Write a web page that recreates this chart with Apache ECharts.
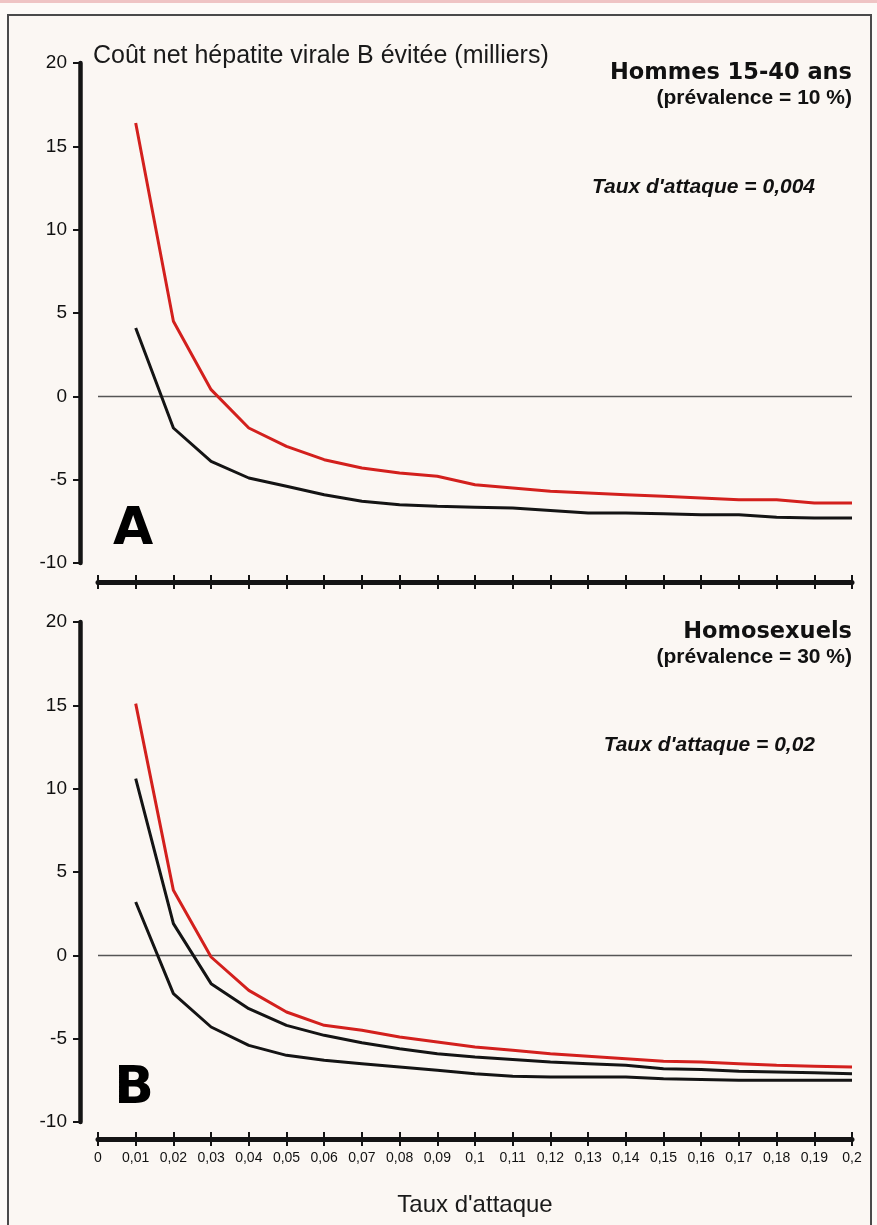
<!DOCTYPE html>
<html>
<head>
<meta charset="utf-8">
<script src="https://cdn.jsdelivr.net/npm/echarts@6/dist/echarts.min.js"></script>
<style>
html,body{margin:0;padding:0;background:#fdfaf7;}
#chart{width:877px;height:1225px;}
</style>
</head>
<body>
<div id="chart"></div>
<script>
// Taux d'attaque (x)
const xValues = [0.01,0.02,0.03,0.04,0.05,0.06,0.07,0.08,0.09,0.10,0.11,0.12,0.13,0.14,0.15,0.16,0.17,0.18,0.19,0.20];
// Panel A : Hommes 15-40 ans
const aRed   = [16.4, 4.5, 0.4, -1.9, -3.0, -3.8, -4.3, -4.6, -4.8, -5.3, -5.5, -5.7, -5.8, -5.9, -6.0, -6.1, -6.2, -6.2, -6.4, -6.4];
const aBlack = [4.1, -1.9, -3.9, -4.9, -5.4, -5.9, -6.3, -6.5, -6.6, -6.65, -6.7, -6.85, -7.0, -7.0, -7.05, -7.1, -7.1, -7.25, -7.3, -7.3];
// Panel B : Homosexuels
const bRed    = [15.1, 3.9, -0.1, -2.1, -3.4, -4.2, -4.5, -4.9, -5.2, -5.5, -5.7, -5.9, -6.05, -6.2, -6.35, -6.4, -6.5, -6.6, -6.65, -6.7];
const bBlack1 = [10.6, 1.9, -1.7, -3.2, -4.2, -4.8, -5.25, -5.6, -5.9, -6.1, -6.25, -6.4, -6.5, -6.6, -6.8, -6.85, -6.95, -7.0, -7.05, -7.1];
const bBlack2 = [3.2, -2.3, -4.3, -5.4, -6.0, -6.3, -6.5, -6.7, -6.9, -7.1, -7.25, -7.3, -7.3, -7.3, -7.4, -7.45, -7.5, -7.5, -7.5, -7.5];

const yTitle = "Coût net hépatite virale B évitée (milliers)";
const xTitle = "Taux d'attaque";

const pair = (ys) => xValues.map((x, i) => [x, ys[i]]);
const fmtX = (v) => String(Math.round(v * 100) / 100).replace('.', ',');

const RED = '#d3201d', BLACK = '#141414';
const FONT = 'Liberation Sans, Arial, sans-serif';

function xAxes(gridIndex, showLabels, offset) {
  const base = {
    type: 'value', gridIndex, min: 0, max: 0.2, interval: 0.01,
    position: 'bottom', offset, splitLine: {show: false}
  };
  return [
    Object.assign({}, base, {
      axisLine: {show: true, onZero: false, lineStyle: {color: BLACK, width: 5}},
      axisTick: {show: true, length: 7, lineStyle: {color: BLACK, width: 2}},
      axisLabel: {show: showLabels, formatter: fmtX, fontSize: 14, color: '#111', margin: 12, fontFamily: FONT},
      name: showLabels ? xTitle : '', nameLocation: 'middle', nameGap: 54,
      nameTextStyle: {fontSize: 24, color: '#1a1a1a', fontFamily: FONT}
    }),
    Object.assign({}, base, {
      axisLine: {show: false, onZero: false},
      axisTick: {show: true, inside: true, length: 7, lineStyle: {color: BLACK, width: 2}},
      axisLabel: {show: false}
    })
  ];
}
function yAxis(gridIndex) {
  return {
    type: 'value', gridIndex, min: -10, max: 20, interval: 5,
    position: 'left', offset: 18,
    axisLine: {show: true, onZero: false, lineStyle: {color: BLACK, width: 4.5}},
    axisTick: {show: true, length: 7, lineStyle: {color: BLACK, width: 2}},
    axisLabel: {fontSize: 19, color: '#111', margin: 13, fontFamily: FONT},
    splitLine: {show: false}
  };
}
function line(data, color, xi, yi, withZero) {
  const s = {
    type: 'line', data, xAxisIndex: xi, yAxisIndex: yi,
    symbol: 'none', lineStyle: {color, width: 3}, z: 3, silent: true
  };
  if (withZero) {
    s.markLine = {
      silent: true, symbol: 'none', label: {show: false},
      lineStyle: {color: '#555', width: 1.3, type: 'solid'},
      data: [{yAxis: 0}], z: 1
    };
  }
  return s;
}

const chart = echarts.init(document.getElementById('chart'), null, {renderer: 'canvas'});
const txt = (x, y, text, size, opts) => ({
  type: 'text', x, y, z: 10,
  style: Object.assign({text, fontSize: size, fill: '#111', fontFamily: FONT,
    verticalAlign: 'middle', align: 'left'}, opts || {})
});
const heavy = {fontFamily: 'DejaVu Sans', fontWeight: 'bold'};

chart.setOption({
  animation: false,
  backgroundColor: '#fdfaf7',
  grid: [
    {left: 98, top: 63, width: 754, height: 500},
    {left: 98, top: 622, width: 754, height: 500}
  ],
  xAxis: [...xAxes(0, false, 19), ...xAxes(1, true, 17)],
  yAxis: [yAxis(0), yAxis(1)],
  series: [
    line(pair(aRed), RED, 0, 0, true),
    line(pair(aBlack), BLACK, 0, 0, false),
    line(pair(bRed), RED, 2, 1, true),
    line(pair(bBlack1), BLACK, 2, 1, false),
    line(pair(bBlack2), BLACK, 2, 1, false)
  ],
  graphic: [
    {type: 'rect', z: 0, shape: {x: 0, y: 0, width: 877, height: 3}, style: {fill: '#efc4c4'}},
    {type: 'rect', z: 0, shape: {x: 8, y: 15, width: 863, height: 1240}, style: {fill: '#fbf7f3', stroke: '#4a4a4a', lineWidth: 2}},
    txt(93, 56, yTitle, 25, {fill: '#1a1a1a'}),
    txt(852, 73, 'Hommes 15-40 ans', 22.5, Object.assign({align: 'right'}, heavy)),
    txt(852, 98, '(prévalence = 10 %)', 21, {align: 'right', fontWeight: 'bold'}),
    txt(815, 187, "Taux d'attaque = 0,004", 21, {align: 'right', fontWeight: 'bold', fontStyle: 'italic'}),
    txt(852, 632, 'Homosexuels', 22.5, Object.assign({align: 'right'}, heavy)),
    txt(852, 657, '(prévalence = 30 %)', 21, {align: 'right', fontWeight: 'bold'}),
    txt(815, 745, "Taux d'attaque = 0,02", 21, {align: 'right', fontWeight: 'bold', fontStyle: 'italic'}),
    txt(133, 530, 'A', 52, Object.assign({align: 'center', fill: '#000'}, heavy)),
    txt(134, 1089, 'B', 52, Object.assign({align: 'center', fill: '#000'}, heavy))
  ]
});
</script>
</body>
</html>
